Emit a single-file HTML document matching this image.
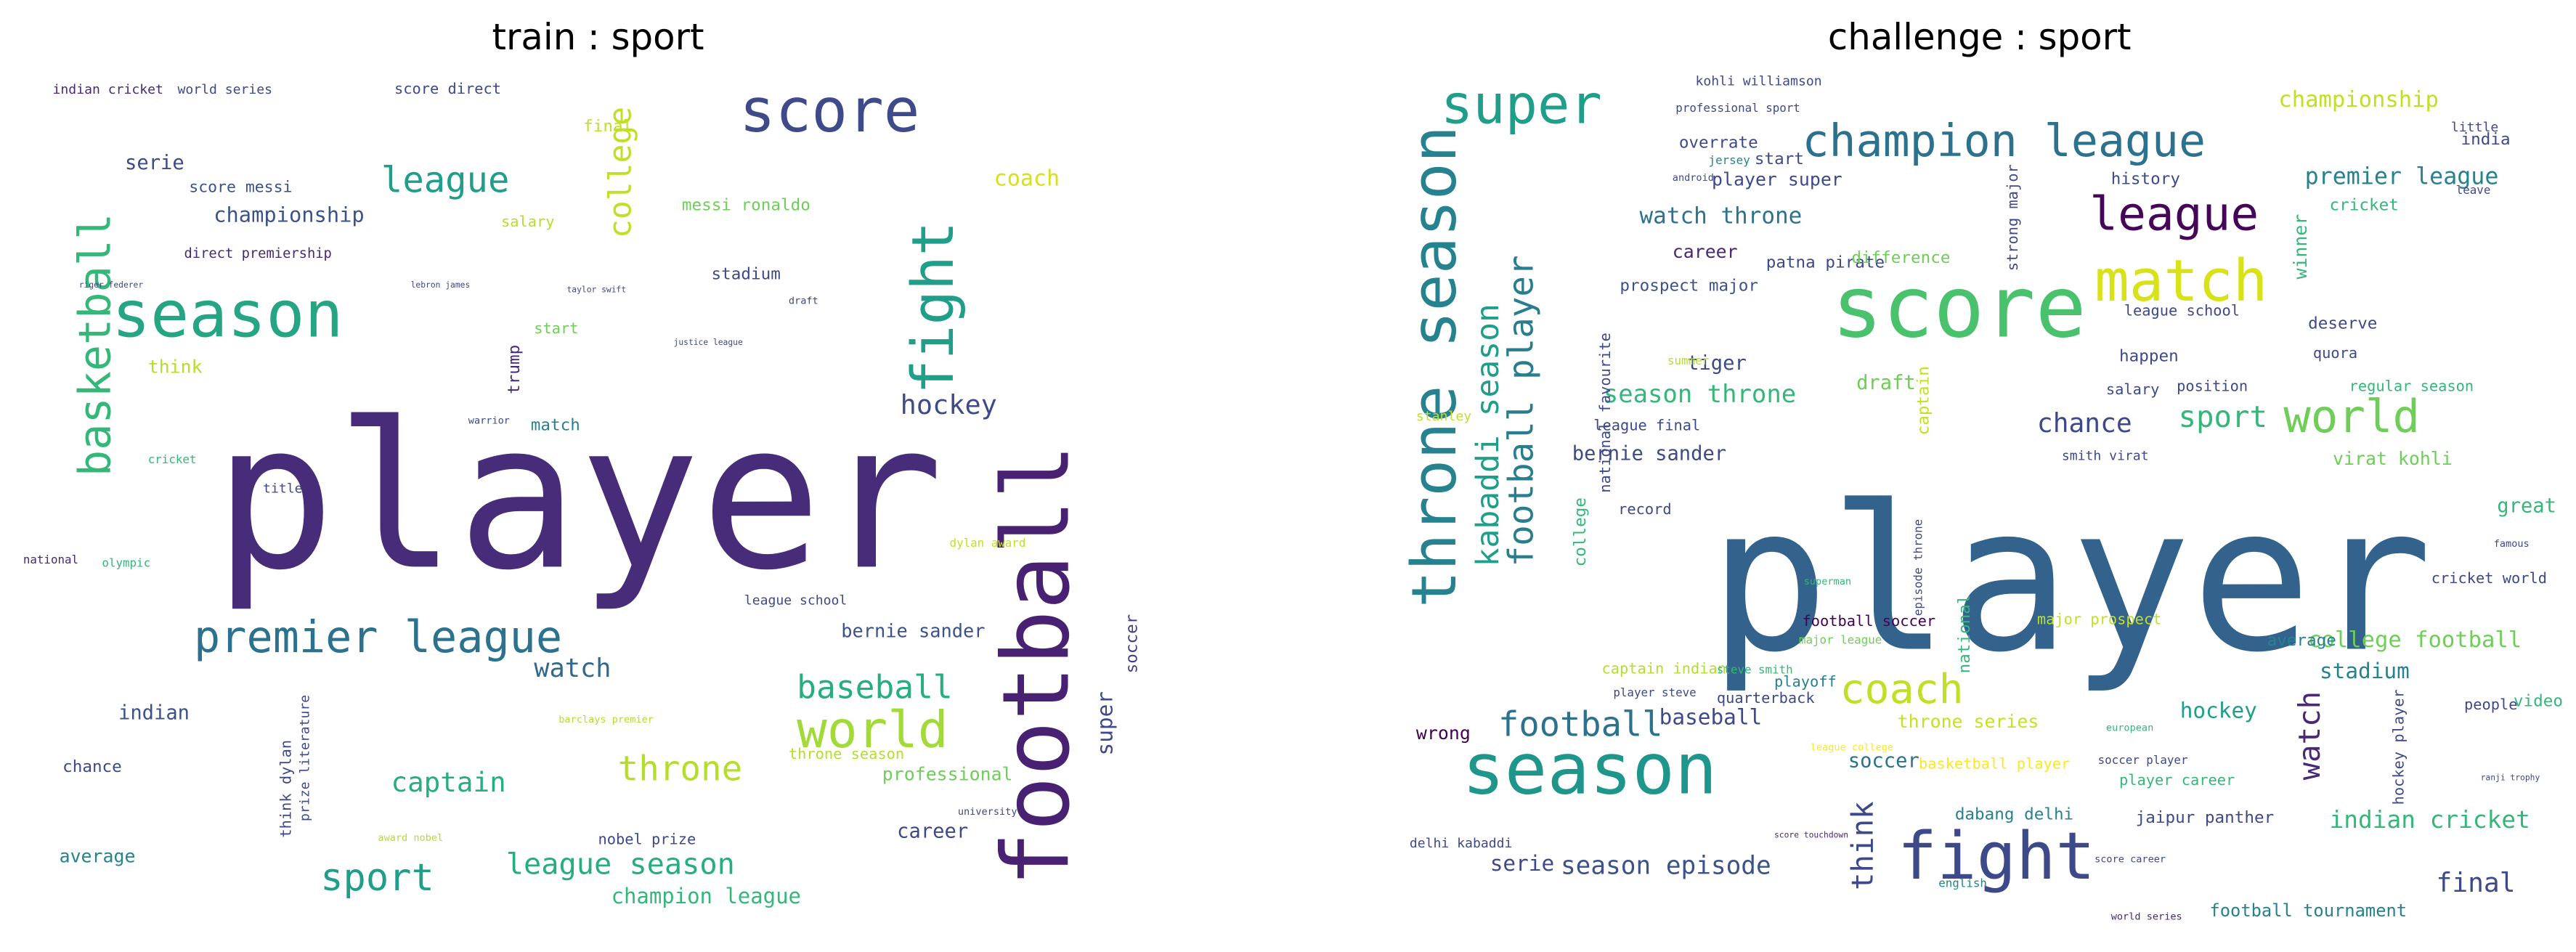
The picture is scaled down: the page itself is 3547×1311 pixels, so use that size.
<!DOCTYPE html>
<html>
<head>
<meta charset="utf-8">
<style>
html,body{margin:0;padding:0;background:#fff;}
svg{display:block;}
text{font-family:"DejaVu Sans Mono","Liberation Mono",monospace;}
.title{font-family:"DejaVu Sans","Liberation Sans",sans-serif;}
</style>
</head>
<body>
<svg id="cloud" width="3547" height="1311" viewBox="0 0 1568 579.6" xmlns="http://www.w3.org/2000/svg">
  <rect width="1568" height="579.6" fill="#ffffff"/>
  <text class="title" x="364" y="30" font-size="22" text-anchor="middle" fill="#000">train : sport</text>
  <text class="title" x="1205" y="30" font-size="22" text-anchor="middle" fill="#000">challenge : sport</text>
  <g id="left"></g>
  <g id="right"></g>
</svg>
<script>
// [word, x, baselineY, size, color, rotated]
const leftWords = [
["player",130,345,123,"#472c7a",0],
["season",68,205,39,"#25a584",0],
["score",450,80,36.5,"#3e4a89",0],
["football",650,540,56,"#482173",1],
["basketball",67,290,26.6,"#35b779",1],
["fight",580,240,35,"#1f9e89",1],
["college",384,145,19,"#c0df25",1],
["premier league",118,397,26.6,"#2c728e",0],
["league",232,117,21.6,"#1f9e89",0],
["world",485,455,30.6,"#a2da37",0],
["baseball",485,425,19.7,"#26ad81",0],
["throne",376,475,21,"#b5de2b",0],
["sport",195,542,23,"#1f9e89",0],
["league season",308,532,17.8,"#26ad81",0],
["champion league",372,550,12.8,"#35b779",0],
["captain",238,482,16.6,"#26ad81",0],
["watch",325,412,15.6,"#31688e",0],
["hockey",548,252,16.3,"#3e4a89",0],
["coach",605,113,13.3,"#d5e21a",0],
["bernie sander",512,388,11.2,"#3b528b",0],
["super",677,460,13,"#3e4989",1],
["soccer",692,410,10,"#433e85",1],
["championship",130,135,12.7,"#3b528b",0],
["serie",76,103,12,"#3e4a89",0],
["score messi",115,117,9.5,"#3b528b",0],
["direct premiership",112,157,8.3,"#482878",0],
["messi ronaldo",415,128,10,"#6ece58",0],
["stadium",433,170,10,"#3e4989",0],
["think",90,227,11,"#b5de2b",0],
["trump",316,240,10,"#482878",1],
["match",323,262,10,"#26828e",0],
["indian",72,438,12,"#3b528b",0],
["chance",38,470,10,"#3e4989",0],
["average",36,525,11,"#26828e",0],
["professional",537,475,11,"#6ece58",0],
["career",546,510,12,"#3e4989",0],
["throne season",480,462,9,"#b5de2b",0],
["nobel prize",364,514,9,"#3e4989",0],
["think dylan",177,510,9,"#3e4989",1],
["prize literature",188,500,8,"#3e4989",1],
["final",355,80,10,"#c2df23",0],
["salary",305,138,9,"#b5de2b",0],
["score direct",240,57,9,"#3e4a89",0],
["world series",108,57,8,"#3e4989",0],
["indian cricket",32,57,8,"#482878",0],
["start",325,203,9,"#6ece58",0],
["dylan award",578,333,7,"#c2df23",0],
["title",160,300,8,"#3e4989",0],
["olympic",62,345,7,"#35b779",0],
["national",14,343,7,"#482878",0],
["league school",453,368,8,"#3e4989",0],
["cricket",90,282,7,"#35b779",0],
["barclays premier",340,440,6,"#b5de2b",0],
["award nobel",230,512,6,"#b5de2b",0],
["university",583,496,6,"#3e4989",0],
["draft",480,185,6,"#3e4989",0],
["warrior",285,258,6,"#3e4989",0],
["riger federer",48,175,5,"#3e4989",0],
["lebron james",250,175,5,"#3e4989",0],
["taylor swift",345,178,5,"#3e4989",0],
["justice league",410,210,5,"#3e4989",0]
];
const rightWords = [
["player",1040,395,122,"#33638d",0],
["score",1115,205,51.5,"#4ac16d",0],
["super",877,75,32.6,"#1f9e89",0],
["champion league",1097,95,27.2,"#2c728e",0],
["match",1275,183,35,"#d8e219",0],
["league",1272,140,28.5,"#450559",0],
["season",890,483,43,"#1f968b",0],
["fight",1155,535,40,"#3e4989",0],
["throne season",886,370,37.5,"#26828e",1],
["kabaddi season",912,345,19,"#1f9e89",1],
["football player",933,345,21,"#287d8e",1],
["world",1390,263,27.6,"#6ece58",0],
["sport",1326,260,18,"#35b779",0],
["coach",1120,428,25,"#c0df25",0],
["football",912,448,20.8,"#2c728e",0],
["baseball",1010,441,13,"#3e4989",0],
["season episode",950,532,15.2,"#3b528b",0],
["serie",907,530,13,"#3e4989",0],
["watch throne",998,136,13.7,"#2c728e",0],
["player super",1042,113,11,"#3e4989",0],
["overrate",1022,90,10,"#3e4989",0],
["start",1068,100,10,"#3e4989",0],
["career",1018,157,11,"#482878",0],
["patna pirate",1075,163,10,"#3e4989",0],
["prospect major",986,177,10,"#3b528b",0],
["difference",1127,160,10,"#6ece58",0],
["tiger",1027,225,12,"#3e4989",0],
["season throne",976,245,15,"#35b779",0],
["bernie sander",957,280,12,"#3e4989",0],
["league final",970,262,9,"#3e4989",0],
["record",985,313,9,"#3e4989",0],
["draft",1130,237,12,"#6ece58",0],
["captain",1174,265,10,"#c2df23",1],
["chance",1240,263,16,"#3e4989",0],
["championship",1387,65,13.5,"#c2df23",0],
["premier league",1403,112,14,"#26828e",0],
["cricket",1418,128,10,"#35b779",0],
["india",1498,88,10,"#3e4989",0],
["history",1285,112,10,"#3e4989",0],
["winner",1404,170,11,"#35b779",1],
["strong major",1228,165,9,"#3e4989",1],
["league school",1293,192,9,"#3e4989",0],
["happen",1290,220,10,"#3e4989",0],
["deserve",1405,200,10,"#3e4989",0],
["quora",1408,218,9,"#3e4989",0],
["regular season",1430,238,9,"#35b779",0],
["salary",1282,240,9,"#3e4989",0],
["position",1325,238,9,"#3e4989",0],
["virat kohli",1420,283,11,"#6ece58",0],
["great",1520,312,12,"#35b779",0],
["college football",1405,394,13.5,"#6ece58",0],
["stadium",1412,413,13,"#26828e",0],
["hockey",1327,437,13,"#1f9e89",0],
["watch",1412,475,18,"#482878",1],
["indian cricket",1418,504,14.5,"#35b779",0],
["final",1483,543,16,"#3e4989",0],
["football tournament",1345,558,10.5,"#26828e",0],
["major prospect",1240,380,9,"#c2df23",0],
["throne series",1155,443,11,"#c8e020",0],
["basketball player",1168,468,9,"#fde725",0],
["soccer",1125,467,12,"#2c728e",0],
["football soccer",1097,381,9,"#440154",0],
["national",1199,410,10,"#35b779",1],
["think",1140,542,18,"#3e4989",1],
["quarterback",1045,428,9,"#3e4989",0],
["playoff",1080,418,9,"#26828e",0],
["captain indian",975,410,9,"#b5de2b",0],
["wrong",862,450,11,"#440154",0],
["player steve",982,424,7,"#3e4989",0],
["steve smith",1045,410,7,"#35b779",0],
["dabang delhi",1190,499,10,"#26828e",0],
["college",965,345,10,"#35b779",1],
["national favourite",980,300,9,"#3e4989",1],
["episode throne",1170,375,7,"#3e4989",1],
["average",1380,393,10,"#26828e",0],
["cricket world",1480,355,9,"#3e4989",0],
["video",1530,430,10,"#35b779",0],
["people",1500,432,9,"#3e4989",0],
["jaipur panther",1300,501,10,"#3e4989",0],
["player career",1290,478,9,"#35b779",0],
["delhi kabaddi",858,516,8,"#3e4989",0],
["hockey player",1463,490,9,"#3e4989",1],
["kohli williamson",1032,52,8,"#3e4989",0],
["professional sport",1020,68,7,"#3e4989",0],
["summer",1015,222,7,"#b5de2b",0],
["smith virat",1255,280,8,"#3e4989",0],
["little",1492,80,8,"#3e4989",0],
["leave",1495,118,7,"#3e4989",0],
["soccer player",1277,465,7,"#3e4989",0],
["english",1180,540,7,"#26828e",0],
["score career",1275,525,6,"#3e4989",0],
["world series",1285,560,6,"#482878",0],
["major league",1095,392,7,"#6ece58",0],
["league college",1102,457,6,"#fde725",0],
["score touchdown",1080,510,5,"#482878",0],
["european",1282,445,6,"#35b779",0],
["superman",1098,356,6,"#35b779",0],
["android",1018,110,6,"#3e4989",0],
["jersey",1040,100,7,"#26828e",0],
["stanley",862,256,8,"#c2df23",0],
["ranji trophy",1510,475,5,"#3e4989",0],
["famous",1518,333,6,"#3e4989",0]
];
const NS = "http://www.w3.org/2000/svg";
function draw(words, gid, prefix){
  const g = document.getElementById(gid);
  words.forEach(function(w, i){
    const el = document.createElementNS(NS, "text");
    
    
    el.setAttribute("font-size", w[3]);
    el.setAttribute("fill", w[4]);
    if (w[5]) {
      el.setAttribute("transform", "translate(" + w[1] + "," + w[2] + ") rotate(-90)");
    } else {
      el.setAttribute("x", w[1]);
      el.setAttribute("y", w[2]);
    }
    el.textContent = w[0];
    g.appendChild(el);
  });
}
draw(leftWords, "left", "train");
draw(rightWords, "right", "challenge");
</script>
</body>
</html>
